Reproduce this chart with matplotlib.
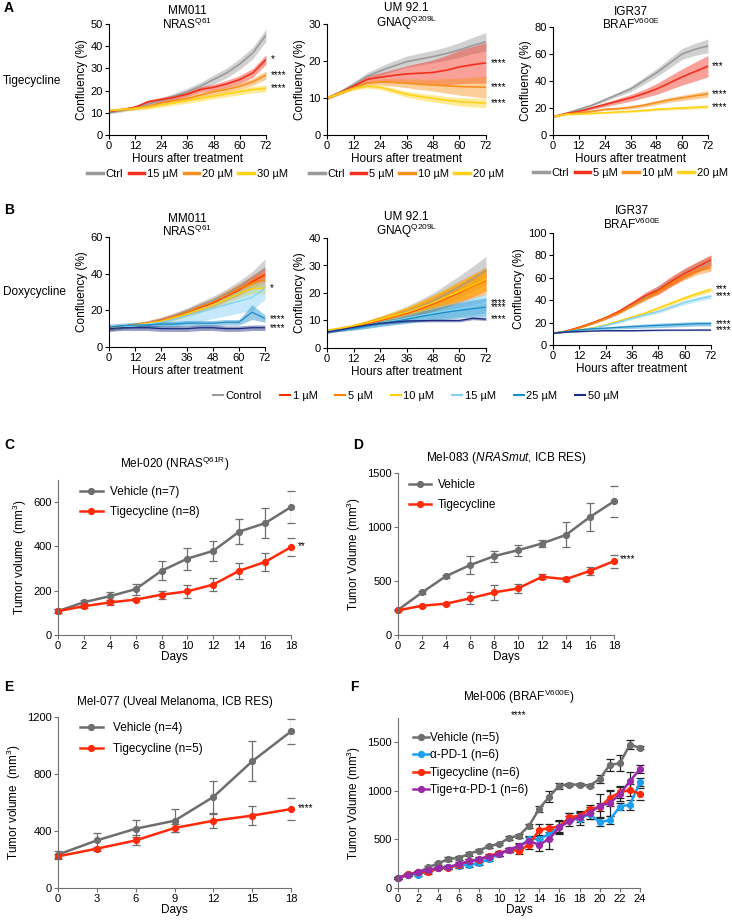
import matplotlib
matplotlib.use('AGG')
import matplotlib.pyplot as plt
from matplotlib.lines import Line2D
import numpy as np

plt.rcParams['font.family'] = ['Liberation Sans', 'DejaVu Sans']
plt.rcParams['mathtext.fontset'] = 'custom'
plt.rcParams['mathtext.rm'] = 'Liberation Sans'
plt.rcParams['mathtext.it'] = 'Liberation Sans:italic'
plt.rcParams['font.size'] = 7

W, H = 732, 922

# ---------------- panel A/B data (confluency, %) ----------------
hours = [0, 6, 12, 18, 24, 30, 36, 42, 48, 54, 60, 66, 72]

a_labels = ['Ctrl', '15 µM', '20 µM', '30 µM']
a_labels2 = ['Ctrl', '5 µM', '10 µM', '20 µM']
a_colors = ['#9a9a9a', '#f2301b', '#f7901e', '#ffd21a']

a1_mean = [[10, 11, 12.5, 14, 15.5, 17.5, 19.5, 22, 25, 28, 32, 37, 45],
           [10.5, 11.5, 12.5, 15, 16, 17, 18.5, 20.5, 21.5, 23, 25, 28, 34],
           [11, 11.5, 12, 13, 14.5, 15.5, 16.5, 18, 19.5, 20.5, 22, 24, 27],
           [11, 11.5, 12, 12.5, 13.5, 14.5, 15.5, 16.5, 17.5, 18.5, 19.5, 20.5, 21]]
a1_sd = [[0.5, 0.6, 0.8, 1, 1.2, 1.4, 1.6, 1.8, 2, 2.2, 2.4, 2.6, 2.8],
         [0.5, 0.5, 0.6, 0.8, 1, 1.1, 1.2, 1.3, 1.4, 1.6, 1.8, 2, 2.2],
         [0.5, 0.5, 0.6, 0.7, 0.8, 0.9, 1, 1.1, 1.2, 1.3, 1.4, 1.6, 1.8],
         [0.8, 0.8, 0.8, 0.9, 1, 1, 1.1, 1.2, 1.2, 1.3, 1.4, 1.5, 1.5]]
a1_stars = [None, '*', '****', '****']

a2_mean = [[10, 11.6, 13.6, 15.8, 17.3, 18.6, 19.8, 20.5, 21.2, 22, 23, 24.2, 25.2],
           [10, 11.5, 13.2, 15, 15.6, 16.1, 16.5, 16.7, 16.9, 17.5, 18.4, 19, 19.5],
           [10, 11.4, 12.8, 14, 14.3, 14.2, 14, 13.7, 13.5, 13.3, 13.1, 13, 12.9],
           [10, 11.3, 12.5, 13.2, 12.9, 12, 11, 10.4, 9.9, 9.4, 9, 8.8, 8.6]]
a2_sd = [[0.4, 0.5, 0.7, 1, 1.2, 1.4, 1.5, 1.6, 1.7, 1.8, 2, 2.2, 2.5],
         [0.4, 0.5, 0.7, 0.9, 1.2, 1.6, 2.2, 2.8, 3.4, 4, 4.5, 5, 5.5],
         [0.3, 0.4, 0.5, 0.6, 0.8, 1, 1.2, 1.4, 1.6, 2, 2.3, 2.6, 3],
         [0.3, 0.3, 0.4, 0.5, 0.6, 0.7, 0.8, 0.9, 1, 1, 1.1, 1.2, 1.2]]
a2_stars = [None, '****', '****', '****']

a3_mean = [[13.5, 16, 19, 22, 26, 30, 34, 40, 46, 53, 60, 63.5, 66],
           [13.5, 15.8, 17.5, 20, 22.5, 25, 27.5, 30.5, 34, 38.5, 43, 47, 51],
           [13.5, 15.5, 16.5, 17.5, 19, 19.5, 20.5, 22, 24, 26, 27.5, 29, 30.5],
           [13.5, 15.2, 15.5, 16, 16.5, 17, 17.5, 18.2, 19, 19.5, 20, 20.5, 21]]
a3_sd = [[0.5, 0.6, 0.8, 1, 1.2, 1.5, 2, 2.5, 3, 3.5, 4, 4.5, 5],
         [0.5, 0.6, 0.8, 1, 1.5, 2, 2.5, 3, 4, 5, 6, 7, 8],
         [0.5, 0.5, 0.6, 0.7, 0.8, 1, 1.2, 1.4, 1.6, 1.8, 2, 2.2, 2.5],
         [0.5, 0.5, 0.5, 0.6, 0.6, 0.7, 0.8, 0.9, 1, 1, 1.1, 1.2, 1.3]]
a3_stars = [None, '***', '****', '****']

b_labels = ['Control', '1 µM', '5 µM', '10 µM', '15 µM', '25 µM', '50 µM']
b_colors = ['#9a9a9a', '#ff2a00', '#ff8000', '#ffd000', '#7fd0f5', '#1a8cc8', '#1c2a80']

b1_mean = [[10, 11, 12, 13.3, 14.8, 17, 19.5, 22.5, 25.5, 29, 33, 37.5, 43],
           [10, 11, 12, 13, 14.5, 16.5, 19, 21.5, 24, 27.5, 31, 35.5, 39.5],
           [10, 11, 12, 13, 14.5, 16.5, 19, 22, 24.5, 28, 31.5, 35, 36.5],
           [10, 11, 12, 13, 14, 16, 18, 20.5, 23, 26, 29, 32, 32],
           [10, 10.8, 11.5, 12.5, 13.5, 15, 17, 19, 21, 23, 25, 27, 32],
           [11, 11.5, 12, 12, 12.5, 12.5, 13, 13, 13, 13.5, 13.5, 19, 15.5],
           [10, 10.5, 10.5, 10.5, 10, 10, 10, 10.5, 10.5, 10, 10, 10.5, 10.5]]
b1_sd = [[1, 1, 1, 1.2, 1.4, 1.6, 1.8, 2, 2.2, 2.5, 3, 3.5, 5],
         [1, 1, 1, 1.2, 1.4, 1.6, 1.8, 2, 2.2, 2.5, 3, 3.5, 4],
         [1, 1, 1, 1.2, 1.4, 1.6, 1.8, 2, 2.2, 2.5, 3, 3.5, 4],
         [1, 1, 1, 1.1, 1.2, 1.4, 1.6, 1.8, 2, 2.2, 2.5, 2.8, 3],
         [1, 1, 1, 1.5, 2, 3, 4, 5, 5.5, 6, 6.5, 7, 6],
         [1.5, 1.5, 1.5, 1.5, 1.5, 1.5, 1.5, 1.5, 1.5, 1.5, 1.5, 4, 2],
         [1.5, 1.5, 1.5, 1.5, 1.5, 1.5, 1.5, 1.5, 1.5, 1.5, 1.5, 1.5, 1.5]]
b1_stars = [None, None, None, None, '*', '****', '****']

b2_mean = [[6, 6.7, 7.5, 8.8, 10.2, 11.6, 13.2, 15, 17, 19.6, 22.3, 25.2, 28.3],
           [6.2, 7, 7.7, 8.8, 10, 11.2, 12.5, 14.2, 16, 18, 20.2, 22.5, 24.8],
           [6.2, 7, 7.8, 8.9, 10.1, 11.3, 12.7, 14.4, 16.2, 18.2, 20.4, 22.4, 24.5],
           [6.5, 7.2, 8, 9.1, 10.4, 11.7, 13, 14.7, 16.5, 18.5, 20.6, 22.8, 25],
           [6, 6.6, 7.2, 8, 9, 9.9, 10.8, 11.8, 12.7, 13.5, 14.2, 15.2, 16.3],
           [5.8, 6.5, 7.1, 7.9, 8.8, 9.6, 10.4, 11.4, 12.2, 13, 13.7, 14.3, 14.8],
           [5.8, 6.6, 7.5, 8.3, 9, 9.4, 9.8, 9.9, 10, 10, 10, 10.8, 10.5]]
b2_sd = [[0.5, 0.6, 0.8, 1, 1.3, 1.6, 2, 2.5, 3, 3.5, 4, 4.5, 5],
         [0.5, 0.6, 0.8, 1, 1.2, 1.5, 1.8, 2.2, 2.6, 3, 3.4, 3.8, 4],
         [0.5, 0.6, 0.8, 1, 1.3, 1.6, 2, 2.5, 3, 3.5, 4, 4.5, 5],
         [0.5, 0.6, 0.8, 1, 1.2, 1.5, 1.8, 2.2, 2.6, 3, 3.4, 3.8, 4],
         [0.5, 0.5, 0.6, 0.8, 1, 1.2, 1.5, 1.8, 2.1, 2.5, 2.8, 3.2, 3.5],
         [0.5, 0.5, 0.6, 0.8, 1, 1.2, 1.5, 1.8, 2.1, 2.5, 2.8, 3.2, 3.5],
         [0.3, 0.3, 0.3, 0.3, 0.4, 0.4, 0.4, 0.4, 0.5, 0.5, 0.5, 0.5, 0.5]]
b2_stars = [None, None, None, None, '****', '****', '****']

b3_mean = [[10.5, 12.5, 15.5, 19.5, 24, 29.5, 36, 43, 50, 57, 64, 70, 75],
           [10.5, 12.5, 16, 20, 24.5, 30, 37, 44, 49, 57, 64, 70, 76],
           [10.5, 12.3, 15.5, 19.5, 24, 29, 35.5, 41.5, 48, 55, 61, 66, 69],
           [10.5, 12, 13.5, 15.5, 18, 21.5, 25, 28.5, 33, 37.5, 42, 46, 49.5],
           [10.5, 11.8, 13.2, 15, 17.5, 20.5, 24, 27, 30, 34, 38, 41, 43.5],
           [10.5, 12, 13.5, 14.5, 15, 15.8, 16.4, 17, 17.5, 18, 18.5, 19, 19],
           [10.5, 11.5, 12, 12.5, 12.8, 12.8, 12.8, 13, 13.2, 13.3, 13.3, 13.4, 13.4]]
b3_sd = [[0.5, 0.6, 0.8, 1, 1.3, 1.6, 2, 2.5, 3, 3.5, 4, 4.5, 5],
         [0.5, 0.6, 0.8, 1, 1.3, 1.6, 2, 3, 4, 4.5, 4.5, 4.5, 4.5],
         [0.5, 0.6, 0.8, 1, 1.2, 1.5, 1.8, 2, 2.3, 2.5, 2.8, 3, 3],
         [0.5, 0.5, 0.6, 0.7, 0.8, 1, 1.2, 1.3, 1.5, 1.6, 1.8, 2, 2],
         [0.5, 0.5, 0.6, 0.7, 0.8, 1, 1.2, 1.3, 1.5, 1.6, 1.8, 2, 2],
         [0.5, 0.6, 0.8, 1, 1.2, 1.4, 1.6, 1.8, 2, 2, 2, 2, 2],
         [0.3, 0.3, 0.4, 0.4, 0.4, 0.5, 0.5, 0.5, 0.5, 0.5, 0.5, 0.5, 0.5]]
b3_stars = [None, None, None, '***', '****', '****', '****']

# ---------------- panel C-F data (tumor volume, mm3) ----------------
c_days = [0, 2, 4, 6, 8, 10, 12, 14, 16, 18]
c_veh = [108, 148, 175, 207, 290, 345, 380, 467, 505, 578]
c_veh_err = [8, 10, 18, 25, 42, 50, 45, 57, 68, 72]
c_tig = [108, 130, 147, 160, 182, 197, 228, 290, 330, 397]
c_tig_err = [8, 8, 10, 8, 18, 28, 28, 35, 40, 40]

d_days = [0, 2, 4, 6, 8, 10, 12, 14, 16, 18]
d_veh = [232, 394, 545, 647, 730, 785, 847, 927, 1093, 1238]
d_veh_err = [5, 10, 15, 80, 50, 50, 30, 115, 130, 145]
d_tig = [228, 271, 290, 339, 394, 431, 539, 517, 594, 684]
d_tig_err = [5, 10, 10, 55, 70, 40, 25, 20, 35, 60]

e_days = [0, 3, 6, 9, 12, 15, 18]
e_veh = [234, 334, 416, 472, 639, 889, 1099]
e_veh_err = [25, 50, 60, 80, 110, 140, 85]
e_tig = [222, 276, 334, 421, 472, 508, 554]
e_tig_err = [15, 15, 35, 30, 50, 65, 80]

f_days = list(range(25))
f_veh = [103, 137, 161, 213, 254, 299, 309, 350, 385, 429, 453, 515, 539, 642,
         814, 941, 1054, 1064, 1064, 1054, 1122, 1267, 1284, 1476, 1442]
f_veh_err = [10, 10, 10, 15, 15, 20, 20, 20, 15, 15, 15, 20, 20, 20,
             30, 60, 30, 15, 15, 15, 40, 60, 80, 50, 15]
f_pd1 = [103, 144, 137, 178, 206, 220, 230, 240, 254, 299, 350, 391, 419, 505,
         505, 556, 625, 728, 711, 762, 676, 700, 838, 858, 1088]
f_pd1_err = [10, 10, 10, 15, 15, 15, 20, 20, 20, 20, 25, 25, 30, 30,
             40, 50, 60, 40, 60, 50, 40, 40, 40, 50, 40]
f_tig = [103, 144, 161, 161, 206, 206, 240, 275, 288, 333, 357, 391, 384, 446,
         597, 618, 632, 728, 745, 814, 831, 927, 985, 1009, 968]
f_tig_err = [10, 10, 10, 15, 15, 15, 20, 20, 20, 20, 25, 25, 30, 40,
             60, 40, 60, 40, 50, 40, 40, 80, 60, 60, 60]
f_combo = [103, 137, 161, 185, 206, 213, 247, 275, 295, 323, 350, 391, 436, 481,
           446, 505, 625, 687, 728, 769, 848, 872, 968, 1099, 1226]
f_combo_err = [10, 10, 10, 15, 15, 15, 20, 20, 20, 20, 25, 25, 30, 40,
               60, 100, 70, 50, 50, 60, 120, 130, 70, 100, 40]


def px_axes(fig, x0, x1, yt, yb):
    return fig.add_axes([x0 / W, 1 - yb / H, (x1 - x0) / W, (yb - yt) / H])


def style(ax, spine_color='black'):
    for s in ['top', 'right']:
        ax.spines[s].set_visible(False)
    for s in ['left', 'bottom']:
        ax.spines[s].set_color(spine_color)
        ax.spines[s].set_linewidth(0.8)
    ax.tick_params(length=3, width=0.8, labelsize=8, pad=1.5, color=spine_color)


def confluency(ax, means, sds, colors, stars, ymax, ystep, title, title_y, lw):
    t = np.array(hours)
    for m, sd, c in zip(means, sds, colors):
        m = np.array(m)
        sd = np.array(sd)
        ax.fill_between(t, m - sd, m + sd, color=c, alpha=0.45, lw=0)
        ax.plot(t, m, color=c, lw=lw)
    for m, s in zip(means, stars):
        if s:
            ax.text(74, m[-1], s, fontsize=7, va='center', ha='left', clip_on=False)
    ax.set_xlim(0, 72)
    ax.set_ylim(0, ymax)
    ax.set_xticks(range(0, 73, 12))
    ax.set_yticks(np.arange(0, ymax + 0.1, ystep))
    ax.set_xlabel('Hours after treatment', fontsize=8.5, labelpad=1)
    ax.set_ylabel('Confluency (%)', fontsize=8.5, labelpad=2)
    ax.text(0.5, title_y, title, transform=ax.transAxes, ha='center', va='bottom',
            multialignment='center', fontsize=8.5, linespacing=0.95)
    style(ax)


fig = plt.figure(figsize=(W / 100, H / 100), dpi=100)

# ---- A ----
axA1 = px_axes(fig, 109, 266, 24, 135)
confluency(axA1, a1_mean, a1_sd, a_colors, a1_stars, 50, 10,
           'MM011\nNRAS$^{\\mathrm{Q61}}$', 0.93, 1.2)
axA2 = px_axes(fig, 327, 486, 24, 135)
confluency(axA2, a2_mean, a2_sd, a_colors, a2_stars, 30, 10,
           'UM 92.1\nGNAQ$^{\\mathrm{Q209L}}$', 0.93, 1.2)
axA3 = px_axes(fig, 553, 708, 27, 135)
confluency(axA3, a3_mean, a3_sd, a_colors, a3_stars, 80, 20,
           'IGR37\nBRAF$^{\\mathrm{V600E}}$', 0.95, 1.2)
for ax, labs in [(axA1, a_labels), (axA2, a_labels2), (axA3, a_labels2)]:
    handles = [Line2D([], [], color=c, lw=2.5) for c in a_colors]
    ax.legend(handles, labs, loc='center', bbox_to_anchor=(0.5, -0.35), ncol=4,
              frameon=False, fontsize=8, handlelength=1.4, handletextpad=0.25,
              columnspacing=0.5, borderaxespad=0)
fig.text(4 / W, 1 - 8 / H, 'A', fontsize=10, fontweight='bold', va='center')
fig.text(3 / W, 1 - 81 / H, 'Tigecycline', fontsize=8.5, va='center')

# ---- B ----
axB1 = px_axes(fig, 109, 265, 237, 347)
confluency(axB1, b1_mean, b1_sd, b_colors, b1_stars, 60, 20,
           'MM011\nNRAS$^{\\mathrm{Q61}}$', 0.98, 0.9)
axB2 = px_axes(fig, 327, 486, 238, 348)
confluency(axB2, b2_mean, b2_sd, b_colors, b2_stars, 40, 10,
           'UM 92.1\nGNAQ$^{\\mathrm{Q209L}}$', 0.98, 0.9)
axB3 = px_axes(fig, 553, 711, 233, 345)
confluency(axB3, b3_mean, b3_sd, b_colors, b3_stars, 100, 20,
           'IGR37\nBRAF$^{\\mathrm{V600E}}$', 1.01, 0.9)
b_handles = [Line2D([], [], color=c, lw=1.5) for c in b_colors]
fig.legend(b_handles, b_labels, loc='center', bbox_to_anchor=(416 / W, 1 - 396 / H),
           ncol=7, frameon=False, fontsize=8, handlelength=0.9, handletextpad=0.25,
           columnspacing=1.6)
fig.text(4 / W, 1 - 210 / H, 'B', fontsize=10, fontweight='bold', va='center')
fig.text(3 / W, 1 - 292 / H, 'Doxycycline', fontsize=8.5, va='center')

# ---- C-F ----
GRAY = '#6e6e6e'
RED = '#ff2a0a'


def tumor(ax, days, series, ymax, yticks, xticks, title, ylabel, star, star_y):
    handles = []
    for vals, err, col, lab, ecol in series:
        ax.errorbar(days, vals, yerr=err, color=col, ecolor=ecol, lw=1.8, marker='o',
                    ms=4.2, capsize=3, elinewidth=0.9, capthick=0.9)
        handles.append(Line2D([], [], color=col, lw=1.8, marker='o', ms=4.2, label=lab))
    ax.set_xlim(0, days[-1])
    ax.set_ylim(0, ymax)
    ax.set_xticks(xticks)
    ax.set_yticks(yticks)
    ax.set_xlabel('Days', fontsize=8.5, labelpad=0)
    ax.set_ylabel(ylabel, fontsize=8.5, labelpad=3)
    ax.set_title(title, fontsize=8.5, pad=9)
    style(ax, '#707070')
    for lab in ax.get_xticklabels() + ax.get_yticklabels():
        lab.set_color('black')
    for ln in ax.lines:
        ln.set_clip_on(False)
    if star:
        ax.text(days[-1] + 0.5, star_y, star, fontsize=7, va='center', ha='left')
    return handles


axC = px_axes(fig, 58, 291, 480, 635)
hC = tumor(axC, c_days,
           [(c_veh, c_veh_err, GRAY, 'Vehicle (n=7)', GRAY),
            (c_tig, c_tig_err, RED, 'Tigecycline (n=8)', GRAY)],
           700, [0, 200, 400, 600], c_days, 'Mel-020 (NRAS$^{\\mathrm{Q61R}}$)',
           'Tumor volume  (mm$^3$)', '**', 400)
axC.legend(handles=hC, loc='upper left', bbox_to_anchor=(0.05, 1.03), frameon=False,
           fontsize=8.5, handlelength=1.9, handletextpad=0.6, labelspacing=0.7)
fig.text(4 / W, 1 - 445 / H, 'C', fontsize=10, fontweight='bold', va='center')

axD = px_axes(fig, 398, 614, 473, 635)
hD = tumor(axD, d_days,
           [(d_veh, d_veh_err, GRAY, 'Vehicle', GRAY),
            (d_tig, d_tig_err, RED, 'Tigecycline', GRAY)],
           1500, [0, 500, 1000, 1500], d_days, 'Mel-083 ($\\mathit{NRASmut}$, ICB RES)',
           'Tumor Volume (mm$^3$)', '****', 700)
axD.legend(handles=hD, loc='upper left', bbox_to_anchor=(0.0, 1.03), frameon=False,
           fontsize=8.5, handlelength=1.9, handletextpad=0.6, labelspacing=0.7)
fig.text(353 / W, 1 - 445 / H, 'D', fontsize=10, fontweight='bold', va='center')

axE = px_axes(fig, 58, 291, 717, 888)
hE = tumor(axE, e_days,
           [(e_veh, e_veh_err, GRAY, 'Vehicle (n=4)', GRAY),
            (e_tig, e_tig_err, RED, 'Tigecycline (n=5)', GRAY)],
           1200, [0, 400, 800, 1200], e_days, 'Mel-077 (Uveal Melanoma, ICB RES)',
           'Tumor volume  (mm$^3$)', '****', 560)
axE.legend(handles=hE, loc='upper left', bbox_to_anchor=(0.05, 1.03), frameon=False,
           fontsize=8.5, handlelength=1.9, handletextpad=0.9, labelspacing=0.7)
fig.text(4 / W, 1 - 687 / H, 'E', fontsize=10, fontweight='bold', va='center')

axF = px_axes(fig, 398, 640, 718, 888)
hF = tumor(axF, f_days,
           [(f_veh, f_veh_err, GRAY, 'Vehicle (n=5)', '#222222'),
            (f_pd1, f_pd1_err, '#1ea0f0', 'α-PD-1 (n=6)', '#222222'),
            (f_tig, f_tig_err, RED, 'Tigecycline (n=6)', '#222222'),
            (f_combo, f_combo_err, '#9a2aa8', 'Tige+α-PD-1 (n=6)', '#222222')],
           1750, [0, 500, 1000, 1500], list(range(0, 25, 2)), 'Mel-006 (BRAF$^{\\mathrm{V600E}}$)',
           'Tumor Volume (mm$^3$)', None, 0)
axF.set_title('Mel-006 (BRAF$^{\\mathrm{V600E}}$)', fontsize=8.5, pad=12)
axF.text(0.5, 1.02, '****', transform=axF.transAxes, ha='center', va='center', fontsize=7)
axF.legend(handles=hF, loc='upper left', bbox_to_anchor=(0.02, 0.98), frameon=False,
           fontsize=8.5, handlelength=1.3, handletextpad=0.1, labelspacing=0.45)
fig.text(350 / W, 1 - 687 / H, 'F', fontsize=10, fontweight='bold', va='center')

fig.savefig('out.png', dpi=100)
